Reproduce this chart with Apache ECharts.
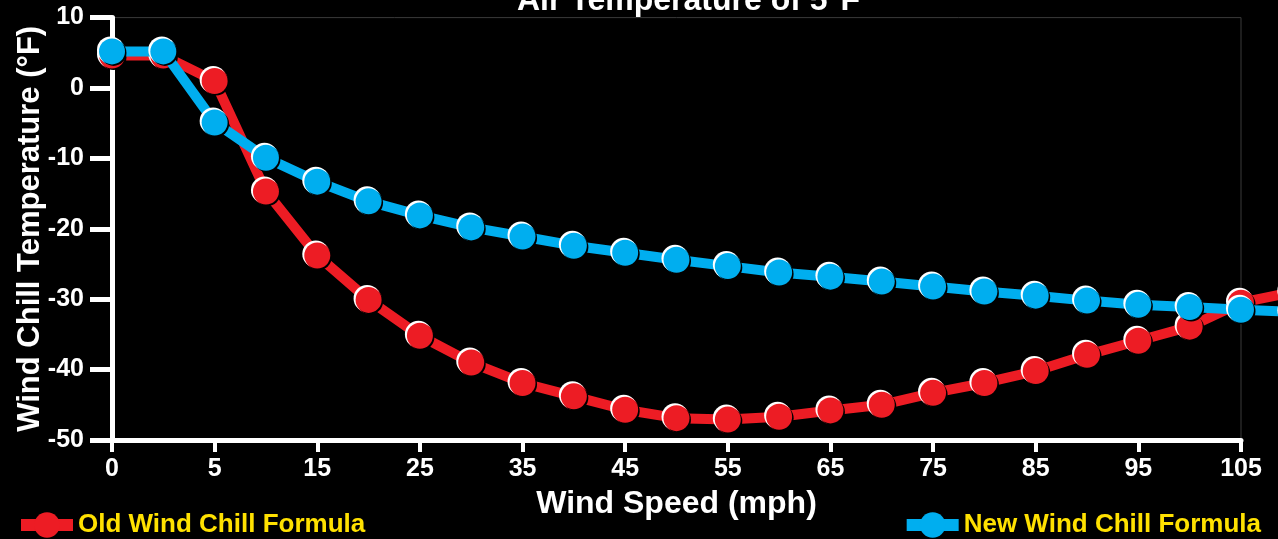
<!DOCTYPE html>
<html>
<head>
<meta charset="utf-8">
<script src="https://cdn.jsdelivr.net/npm/echarts@6/dist/echarts.min.js"></script>
<style>
html,body{margin:0;padding:0;background:#000;}
#windchill{width:1278px;height:539px;}
</style>
</head>
<body>
<div id="windchill"></div>
<script>
// wind speed (mph) for each plotted point; last one falls off the right edge
var windSpeeds = [0, 4, 5, 10, 15, 20, 25, 30, 35, 40, 45, 50, 55, 60, 65, 70, 75, 80, 85, 90, 95, 100, 105, 110];
var oldFormula = [4.6, 4.6, 1.0, -14.7, -23.8, -30.1, -35.2, -39.0, -41.9, -43.8, -45.7, -46.9, -47.1, -46.7, -45.8, -45.0, -43.3, -41.9, -40.2, -37.9, -35.9, -33.9, -30.5, -29.0];
var newFormula = [5.2, 5.2, -4.9, -9.9, -13.3, -16.1, -18.1, -19.8, -21.1, -22.4, -23.4, -24.4, -25.3, -26.2, -26.8, -27.5, -28.2, -28.9, -29.5, -30.2, -30.8, -31.1, -31.5, -31.8];
var yTicks = {min: -50, max: 10, step: 10};

var FONT = '"Liberation Sans", Arial, sans-serif';
var RED = '#ED1C24', BLUE = '#00AEEF';

var chart = echarts.init(document.getElementById('windchill'));

function formulaSeries(name, color, data, z){
    // line + base marker, a white offset disc for the highlight, and the top marker
    return [
        {
            name: name, type: 'line', xAxisIndex: 1, yAxisIndex: 1, z: z,
            data: data, symbol: 'circle', symbolSize: 27,
            lineStyle: {color: color, width: 10},
            itemStyle: {color: color}
        },
        {
            name: name + ' hi', type: 'line', xAxisIndex: 1, yAxisIndex: 1, z: z + 1,
            data: data, symbol: 'circle', symbolSize: 27, symbolOffset: [-1.5, -1.5],
            lineStyle: {width: 0, opacity: 0},
            itemStyle: {color: '#fff'}
        },
        {
            name: name + ' dot', type: 'line', xAxisIndex: 1, yAxisIndex: 1, z: z + 2,
            data: data, symbol: 'circle', symbolSize: 26,
            lineStyle: {width: 0, opacity: 0},
            itemStyle: {color: color, shadowColor: '#000', shadowBlur: 0, shadowOffsetX: 1.5, shadowOffsetY: 1.5}
        }
    ];
}

var legendText = {color: '#FFE100', fontSize: 26, fontWeight: 'bold', fontFamily: FONT};

var option = {
    backgroundColor: '#000',
    animation: false,
    title: {
        text: 'Air Temperature of 5°F',
        left: 512, top: -20,
        textStyle: {color: '#fff', fontSize: 32, fontWeight: 'bold', fontFamily: FONT}
    },
    legend: [
        {
            data: ['Old Wind Chill Formula'], left: 10, top: 507,
            itemWidth: 52, itemHeight: 32, itemGap: 10,
            lineStyle: {width: 12},
            textStyle: legendText
        },
        {
            data: ['New Wind Chill Formula'], right: 12, top: 507,
            itemWidth: 52, itemHeight: 32, itemGap: 10,
            lineStyle: {width: 12},
            textStyle: legendText
        }
    ],
    grid: [
        // visible axes
        {left: 112, right: 37, top: 17.6, bottom: 99, outerBoundsMode: 'none', containLabel: false,
            show: true, borderColor: '#3a3a3a', borderWidth: 1, backgroundColor: 'transparent'},
        // same height, one extra step wider so the 110 mph point runs off the page
        {left: 112, right: -14.3, top: 17.6, bottom: 99, outerBoundsMode: 'none', containLabel: false}
    ],
    xAxis: [
        {
            gridIndex: 0, type: 'category', boundaryGap: false,
            data: windSpeeds.slice(0, 23).map(String),
            name: 'Wind Speed (mph)', nameLocation: 'middle', nameGap: 48,
            nameTextStyle: {color: '#fff', fontSize: 32, fontWeight: 'bold', fontFamily: FONT},
            axisLine: {onZero: false, lineStyle: {color: '#fff', width: 5}},
            axisTick: {interval: 1, length: 12, lineStyle: {color: '#fff', width: 4}},
            axisLabel: {interval: 1, color: '#fff', fontSize: 25, fontWeight: 'bold', fontFamily: FONT, margin: 17},
            splitLine: {show: false}
        },
        {
            gridIndex: 1, type: 'category', boundaryGap: false,
            data: windSpeeds.map(String), show: false
        }
    ],
    yAxis: [
        {
            gridIndex: 0, type: 'value', min: yTicks.min, max: yTicks.max, interval: yTicks.step,
            name: 'Wind Chill Temperature (°F)', nameLocation: 'middle', nameGap: 66, nameMoveOverlap: false,
            nameTextStyle: {color: '#fff', fontSize: 31, fontWeight: 'bold', fontFamily: FONT},
            axisLine: {show: true, lineStyle: {color: '#fff', width: 5}},
            axisTick: {show: true, length: 22, lineStyle: {color: '#fff', width: 5}},
            axisLabel: {color: '#fff', fontSize: 25, fontWeight: 'bold', fontFamily: FONT, margin: 28},
            splitLine: {show: false}
        },
        {
            gridIndex: 1, type: 'value', min: yTicks.min, max: yTicks.max, show: false,
            splitLine: {show: false}
        }
    ],
    series: [].concat(
        formulaSeries('Old Wind Chill Formula', RED, oldFormula, 2),
        formulaSeries('New Wind Chill Formula', BLUE, newFormula, 6)
    )
};

chart.setOption(option);
</script>
</body>
</html>
